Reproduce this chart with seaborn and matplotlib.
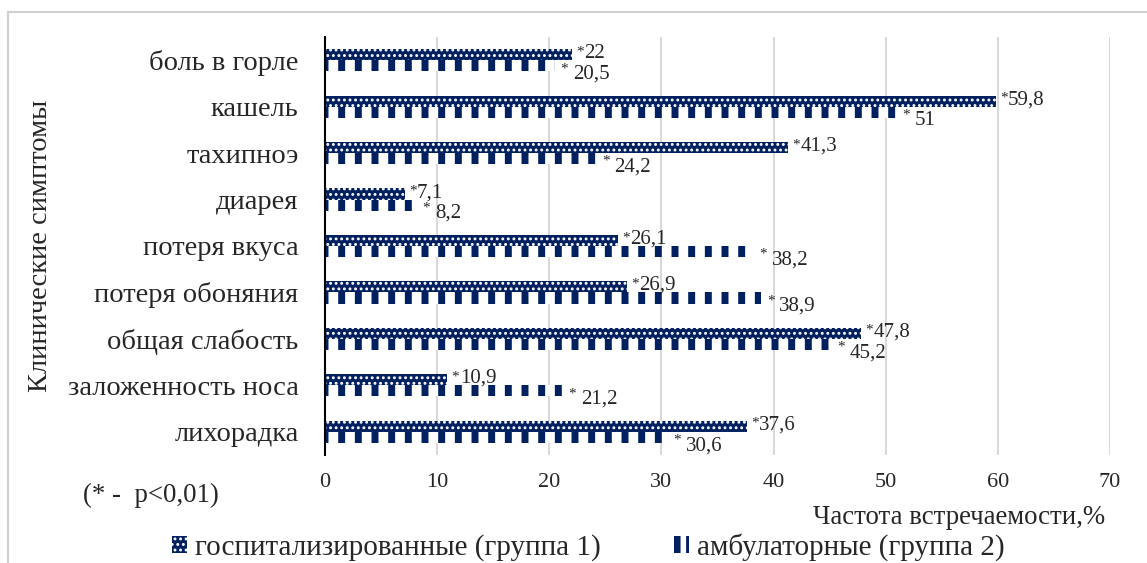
import matplotlib
matplotlib.use("Agg")
import matplotlib.pyplot as plt
import seaborn as sns
import pandas as pd
from matplotlib.patches import Rectangle, Patch

symptoms = ['боль в горле', 'кашель', 'тахипноэ', 'диарея', 'потеря вкуса',
            'потеря обоняния', 'общая слабость', 'заложенность носа', 'лихорадка']
group1 = [22, 59.8, 41.3, 7.1, 26.1, 26.9, 47.8, 10.9, 37.6]
group2 = [20.5, 51, 24.2, 8.2, 38.2, 38.9, 45.2, 21.2, 30.6]
name1 = 'госпитализированные (группа 1)'
name2 = 'амбулаторные (группа 2)'

df = pd.DataFrame({
    'symptom': symptoms * 2,
    'value': group1 + group2,
    'group': [name1] * len(symptoms) + [name2] * len(symptoms),
})

sns.set_style('white')
plt.rcParams['font.family'] = ['Liberation Serif', 'DejaVu Serif']
navy = '#002060'


def hatch_lw(p, lw):
    if hasattr(p, 'set_hatch_linewidth'):
        p.set_hatch_linewidth(lw)
    else:
        p._hatch_linewidth = lw


def style1(p):
    p.set_facecolor(navy)
    p.set_edgecolor('white')
    p.set_hatch('...')
    p.set_linewidth(0)
    hatch_lw(p, 1.3)


def style2(p, lw=5.0):
    p.set_facecolor('white')
    p.set_edgecolor(navy)
    p.set_hatch('|')
    p.set_linewidth(0)
    hatch_lw(p, lw)


fig = plt.figure(figsize=(11.47, 5.63), dpi=100)
ax = fig.add_axes([325 / 1147, 1 - 455 / 563, (1110 - 325) / 1147, (455 - 37) / 563])

sns.barplot(data=df, y='symptom', x='value', hue='group', orient='h',
            order=symptoms, hue_order=[name1, name2], width=0.48,
            ax=ax, legend=False)

for p in ax.containers[0]:
    style1(p)
for p in ax.containers[1]:
    style2(p)


def fmt(v):
    return f'{v:g}'.replace('.', ',')


# value labels: small asterisk + number
for p, v in zip(ax.containers[0], group1):
    yc = p.get_y() + p.get_height() / 2
    ax.annotate('*', (v, yc), xytext=(3, 2), textcoords='offset points',
                va='center', ha='left', fontsize=11)
    ax.annotate(fmt(v), (v, yc), xytext=(9, 1), textcoords='offset points',
                va='center', ha='left', fontsize=15)
for p, v in zip(ax.containers[1], group2):
    yc = p.get_y() + p.get_height() / 2
    ax.annotate('*', (v, yc), xytext=(4, -2), textcoords='offset points',
                va='center', ha='left', fontsize=11)
    ax.annotate(fmt(v), (v, yc), xytext=(13, -6), textcoords='offset points',
                va='center', ha='left', fontsize=15)

ax.set_xlim(0, 70)
ax.set_ylim(8.5, -0.5)
ax.set_xticks(range(0, 71, 10))
ax.xaxis.grid(True, color='#d9d9d9', linewidth=1.5)
ax.set_axisbelow(True)
for s in ['top', 'right', 'bottom']:
    ax.spines[s].set_visible(False)
ax.spines['left'].set_color('black')
ax.spines['left'].set_linewidth(1.5)
ax.tick_params(axis='x', length=0, pad=13, labelsize=16)
ax.tick_params(axis='y', length=0, pad=19, labelsize=20.5)
ax.set_xlabel('')
ax.set_ylabel('Клинические симптомы', fontsize=20.5)
ax.yaxis.set_label_coords(-0.347, 0.5)

fig.text(83 / 1147, 1 - 495 / 563, '(* -  p<0,01)', fontsize=19.3, va='center')
fig.text(1105 / 1147, 1 - 518 / 563, 'Частота встречаемости,%', fontsize=19.3,
         va='center', ha='right')

h1 = Patch(label=name1)
style1(h1)
h2 = Patch(label=name2)
style2(h2)
leg = fig.legend([h1, h2], [name1, name2], loc='center', bbox_to_anchor=(0.513, 1 - 547 / 563),
                 ncol=2, frameon=False, fontsize=21, handlelength=0.5, handleheight=0.5,
                 handletextpad=0.3, columnspacing=2.5, borderpad=0)
lh = leg.legend_handles
hatch_lw(lh[0], 1.3)
hatch_lw(lh[1], 8.0)

fig.patches.append(Rectangle((8 / 1147, -0.05), 1.1, 1.05 - 12 / 563, transform=fig.transFigure,
                             fill=False, edgecolor='#d0d0d0', linewidth=1.5))

fig.savefig('out.png', dpi=100)
